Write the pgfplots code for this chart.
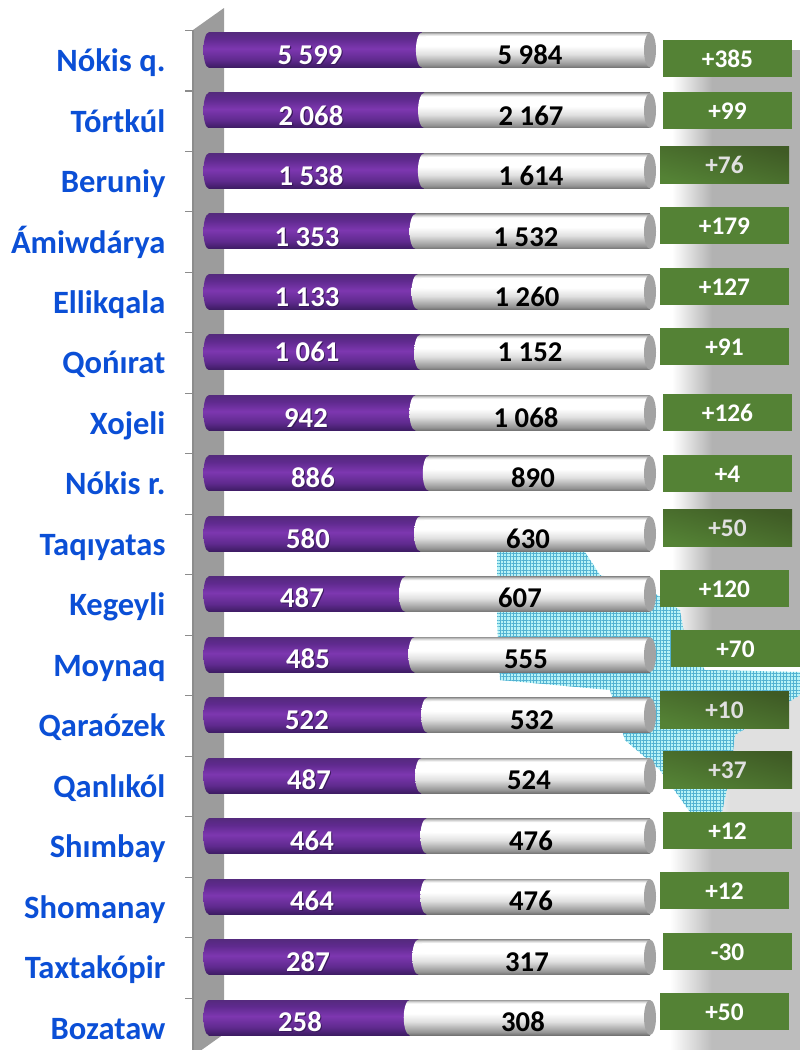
\documentclass[border=0pt]{standalone}
\usepackage{fontspec}
\setmainfont{Carlito}
\usepackage{pgfplots}
\usepackage{pgfplotstable}
\pgfplotsset{compat=1.18}
\usetikzlibrary{shapes.geometric, patterns.meta}

\definecolor{wall}{HTML}{9C9C9C}
\definecolor{wallline}{HTML}{8C8C8C}
\definecolor{capgray}{HTML}{A3A3A3}
\definecolor{namecol}{HTML}{0B4FD6}
\definecolor{boxgreen}{HTML}{548235}
\definecolor{boxdark}{HTML}{3F5B25}
\definecolor{txtshadow}{HTML}{3A1A5C}
\definecolor{mapfill}{HTML}{B8F3F7}
\definecolor{mapline}{HTML}{52B2D2}

\pgfdeclareverticalshading{whitebar}{100bp}{color(0bp)=(black!55);color(25bp)=(black!55);
  color(29bp)=(black!42);color(44bp)=(black!12);color(56bp)=(white);color(70bp)=(white);
  color(73bp)=(black!18);color(75bp)=(black!38);color(100bp)=(black!38)}
\definecolor{pa}{HTML}{3D1C63}
\definecolor{pb}{HTML}{5F2A8E}
\definecolor{pc}{HTML}{7D37B0}
\definecolor{pd}{HTML}{552A7E}
\pgfdeclareverticalshading{purplebar}{100bp}{color(0bp)=(pa);color(25bp)=(pa);color(36bp)=(pb);
  color(52bp)=(pc);color(66bp)=(pb);color(75bp)=(pd);color(100bp)=(pd)}

% picture pixels to axis units (0-100 share, one unit per row)
\newcommand{\pxc}[2]{(axis cs:{(#1-208.5)/4.415},{(#2-50)/60.47})}
\newcommand{\mapoutline}{\pxc{497}{552} -- \pxc{585}{552} -- \pxc{600}{575} -- \pxc{650}{590} -- \pxc{680}{610}
  -- \pxc{685}{640} -- \pxc{705}{670} -- \pxc{800}{672} -- \pxc{800}{695} -- \pxc{735}{735}
  -- \pxc{730}{775} -- \pxc{722}{812} -- \pxc{690}{812} -- \pxc{660}{770} -- \pxc{625}{740}
  -- \pxc{610}{690} -- \pxc{500}{680} -- \pxc{497}{620} -- cycle}

% share = before/(before+after), in percent; lxb, lxa, ly = label centres in px
\pgfplotstableread{
row before after share full lxb lxa ly
0  5~599 5~984 48.34 100 310 530 55
1  2~068 2~167 48.83 100 311 531 116
2  1~538 1~614 48.79 100 311 531 176
3  1~353 1~532 46.90 100 307 526 237
4  1~133 1~260 47.35 100 307 527 297
5  1~061 1~152 47.94 100 307 530 352
6  942 1~068 46.87 100 306 526 418
7  886 890 49.89 100 313 533 478
8  580 630 47.93 100 308 528 539
9  487 607 44.52 100 302 520 598
10 485 555 46.63 100 308 526 659
11 522 532 49.53 100 307 532 720
12 487 524 48.17 100 309 529 780
13 464 476 49.36 100 312 531 841
14 464 476 49.36 100 312 531 901
15 287 317 47.52 100 308 527 962
16 258 308 45.58 100 300 523 1022
}\rows

\pgfplotstableread{
diff bx by
+385 727.5 58.5
+99 727.5 110.5
+179 724.5 225.5
+127 724.5 286
+91 724.5 346.5
+126 727.5 412.5
+4 727.5 473.5
+120 724.5 588.5
+70 735.5 648.5
+12 727.5 830.5
+12 724.5 890.5
-30 727.5 951.5
+50 724.5 1011.5
}\boxesplain

\pgfplotstableread{
diff bx by
+76 724.5 164.5
+50 727.5 527.5
+10 724.5 709.5
+37 727.5 769.5
}\boxesdark

\tikzset{box/.style={text height=14pt, minimum width=96.75pt, minimum height=27.75pt, font=\fontsize{19}{22}\selectfont\bfseries}}
\pgfplotsset{
  lab/.style={nodes near coords, point meta=explicit symbolic,
    every node near coord/.append style={anchor=center, inner sep=0pt, font=\fontsize{21.5}{24}\selectfont\bfseries}},
  cap/.style={only marks, mark=none, point meta=x, nodes near coords={\relax},
    every node near coord/.style={ellipse, inner sep=0pt, minimum height=26.25pt, anchor=center, #1}},
}

\begin{document}
\begin{tikzpicture}
\begin{axis}[
  scale only axis, width=600pt, height=787.5pt,
  xmin=-47.226, xmax=133.975,
  ymin=-0.8268, ymax=16.537,
  y dir=reverse,
  axis x line=none,
  axis y line*=left,
  axis line style={draw=none},
  xtick=\empty,
  ytick={0.357,1.357,2.357,3.357,4.357,5.357,6.357,7.357,8.357,9.357,10.357,11.357,12.357,13.357,14.357,15.357,16.357},
  yticklabels={N\'okis q.,T\'ortk\'ul,Beruniy,\'Amiwd\'arya,Ellikqala,Qo\'n\i rat,Xojeli,N\'okis r.,Taq\i yatas,Kegeyli,Moynaq,Qara\'ozek,Qanl\i k\'ol,Sh\i mbay,Shomanay,Taxtak\'opir,Bozataw},
  major tick length=0pt,
  yticklabel style={anchor=base east, inner sep=0pt, xshift=124.25pt, text=namecol,
    font=\fontsize{24.4}{28}\selectfont\bfseries},
  clip=false,
]
% blurred shadows and map behind the chart
\fill[left color=white, right color=black!30] \pxc{672}{50} rectangle \pxc{712}{652};
\fill[black!30] \pxc{712}{50} rectangle \pxc{800}{652};
\fill[left color=white, right color=black!12] \pxc{700}{672} rectangle \pxc{730}{812};
\fill[black!12] \pxc{730}{672} rectangle \pxc{800}{812};
\fill[left color=white, right color=black!26] \pxc{670}{812} rectangle \pxc{712}{1050};
\fill[black!26] \pxc{712}{812} rectangle \pxc{800}{1050};
\fill[mapfill] \mapoutline;
\fill[pattern={Lines[angle=0, distance=2.5pt, line width=0.7pt]}, pattern color=mapline] \mapoutline;
\fill[pattern={Lines[angle=90, distance=2.5pt, line width=0.7pt]}, pattern color=mapline] \mapoutline;

% wall and its ticks
\fill[wall] \pxc{193}{30} -- \pxc{224}{8} -- \pxc{224}{1034} -- \pxc{193}{1056} -- cycle;
\draw[wallline, line width=0.8pt] \pxc{193}{30} -- \pxc{193}{1050};
\pgfplotsinvokeforeach{0,...,16}{
  \draw[wallline, line width=0.8pt] (axis cs:{(185-208.5)/4.415},{#1-0.3225}) -- (axis cs:{(193-208.5)/4.415},{#1-0.3225});
}

% bars: one plot per row so that each gets its own shading
\pgfplotsinvokeforeach{0,...,16}{
  \addplot[xbar, bar shift=0pt, bar width=26.25pt, draw=none, shade, shading=whitebar,
    y filter/.expression={abs(y-#1)<0.1 ? y : nan}] table[x=full, y=row] {\rows};
  \addplot[xbar, bar shift=0pt, bar width=26.25pt, draw=none, shade, shading=purplebar,
    y filter/.expression={abs(y-#1)<0.1 ? y : nan}] table[x=share, y=row] {\rows};
}
\addplot[cap={minimum width=7.5pt, shade, shading=purplebar}] table[x expr=0, y=row] {\rows};
\addplot[cap={minimum width=9pt, shade, shading=whitebar}] table[x=share, y=row] {\rows};
\addplot[cap={minimum width=9pt, fill=capgray}] table[x=full, y=row] {\rows};

% value labels
\addplot[only marks, mark=none, lab, every node near coord/.append style={text=txtshadow, xshift=0.8pt, yshift=-0.8pt}]
  table[x expr=(\thisrow{lxb}-208.5)/4.415, y expr=(\thisrow{ly}-50)/60.47, meta=before] {\rows};
\addplot[only marks, mark=none, lab, every node near coord/.append style={text=white}]
  table[x expr=(\thisrow{lxb}-208.5)/4.415, y expr=(\thisrow{ly}-50)/60.47, meta=before] {\rows};
\addplot[only marks, mark=none, lab, every node near coord/.append style={text=black}]
  table[x expr=(\thisrow{lxa}-208.5)/4.415, y expr=(\thisrow{ly}-50)/60.47, meta=after] {\rows};

% difference boxes
\addplot[only marks, mark=none, lab, every node near coord/.append style={fill=boxgreen, text=white, box}]
  table[x expr=(\thisrow{bx}-208.5)/4.415, y expr=(\thisrow{by}-50)/60.47, meta=diff] {\boxesplain};
\addplot[only marks, mark=none, lab, every node near coord/.append style={top color=boxdark, bottom color=boxgreen,
    shading angle=-15, text=black!12, box}]
  table[x expr=(\thisrow{bx}-208.5)/4.415, y expr=(\thisrow{by}-50)/60.47, meta=diff] {\boxesdark};
\end{axis}
\pgfresetboundingbox
\path[use as bounding box] (current axis.south west) rectangle (current axis.north east);
\end{tikzpicture}
\end{document}
